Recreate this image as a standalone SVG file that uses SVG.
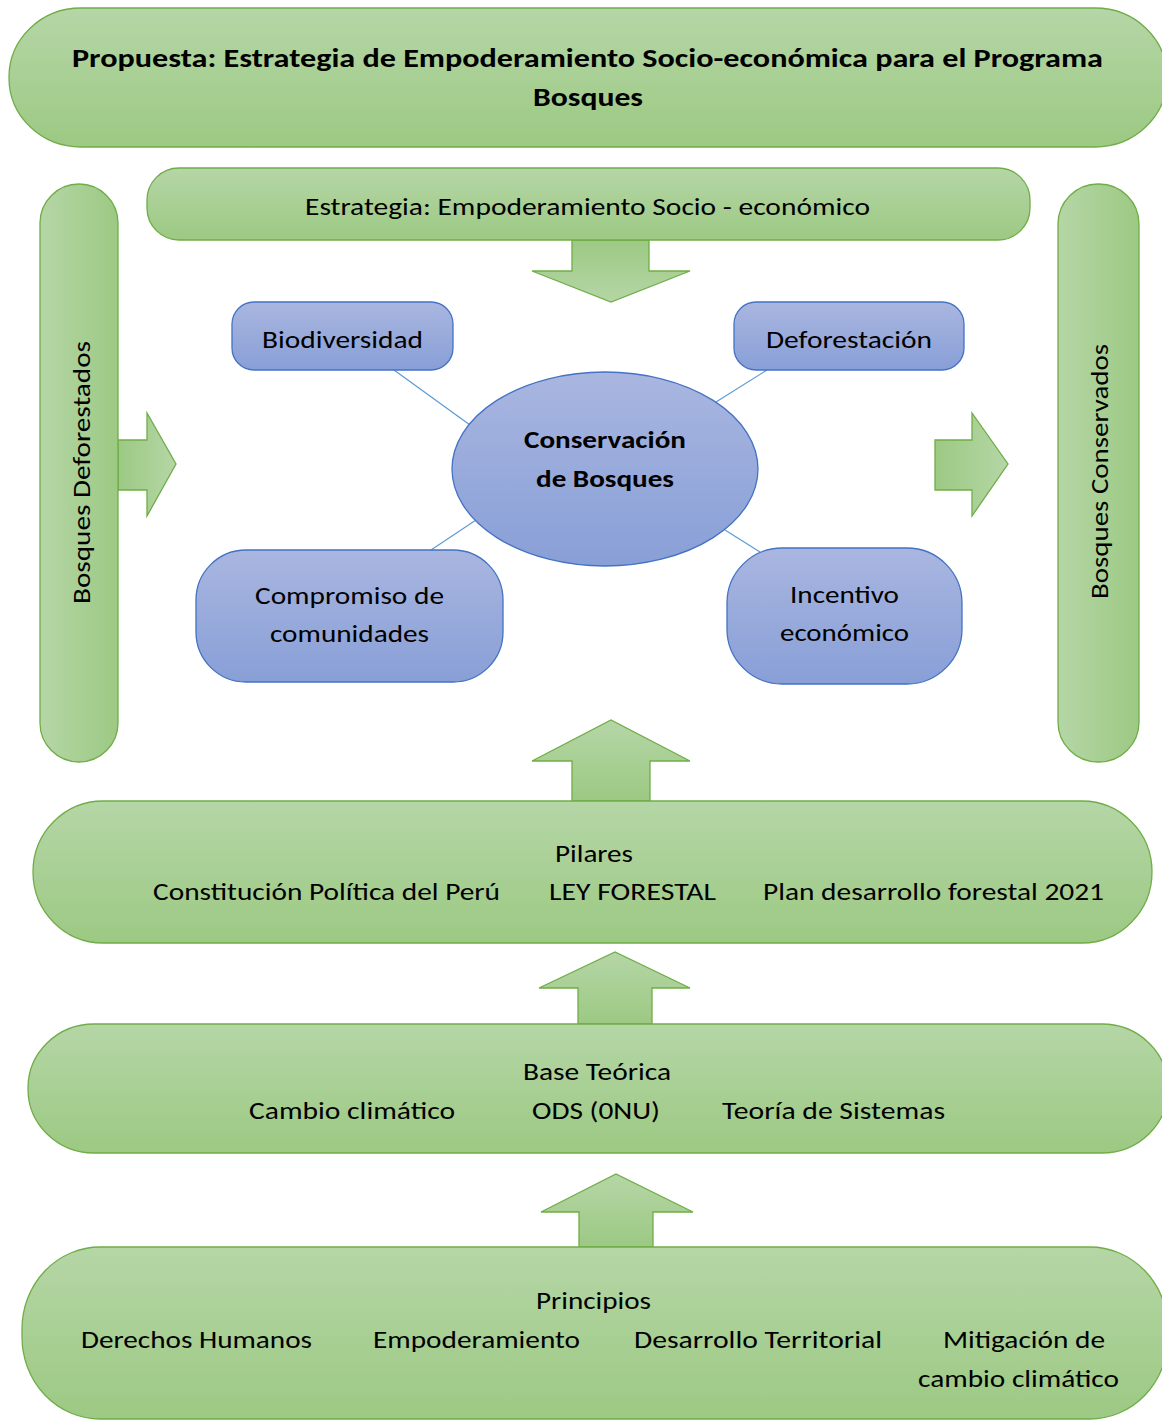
<svg xmlns="http://www.w3.org/2000/svg" width="1162" height="1420" viewBox="0 0 1162 1420">
<defs>
<linearGradient id="gV" x1="0" y1="0" x2="0" y2="1"><stop offset="0" stop-color="#b5d6a6"/><stop offset="1" stop-color="#9cc983"/></linearGradient>
<linearGradient id="gVr" x1="0" y1="0" x2="0" y2="1"><stop offset="0" stop-color="#9cc983"/><stop offset="1" stop-color="#b5d6a6"/></linearGradient>
<linearGradient id="gH" x1="0" y1="0" x2="1" y2="0"><stop offset="0" stop-color="#b5d6a6"/><stop offset="1" stop-color="#9cc983"/></linearGradient>
<linearGradient id="gHr" x1="0" y1="0" x2="1" y2="0"><stop offset="0" stop-color="#9cc983"/><stop offset="1" stop-color="#b5d6a6"/></linearGradient>
<linearGradient id="bV" x1="0" y1="0" x2="0" y2="1"><stop offset="0" stop-color="#a9b6e0"/><stop offset="1" stop-color="#889fd7"/></linearGradient>
<style>
.g{fill:url(#gV);stroke:#70ad47;stroke-width:1.3}
.gh{fill:url(#gH);stroke:#70ad47;stroke-width:1.3}
.b{fill:url(#bV);stroke:#4472c4;stroke-width:1.3}
.au{fill:url(#gV);stroke:#70ad47;stroke-width:1.3}
.ad{fill:url(#gVr);stroke:#70ad47;stroke-width:1.3}
.ar{fill:url(#gHr);stroke:#70ad47;stroke-width:1.3}
.ln{stroke:#5b9bd5;stroke-width:1.2;fill:none}
text{font-family:Carlito,"Liberation Sans",Arial,sans-serif;font-size:25px;fill:#000}
.bd{font-weight:bold}
</style>
</defs>

<g id="connectors">
<line class="ln" x1="394" y1="370" x2="470" y2="425"/>
<line class="ln" x1="767" y1="370" x2="716" y2="402"/>
<line class="ln" x1="431" y1="550" x2="476" y2="520"/>
<line class="ln" x1="725" y1="530" x2="760" y2="552"/>
<polygon class="ad" points="572,240 649,240 649,271 690,271 611,302 532,271 572,271"/>
<polygon class="ar" points="118,440 147,440 147,413 176,464 147,516 147,490 118,490"/>
<polygon class="ar" points="935,440 972,440 972,413 1008,464 972,516 972,490 935,490"/>
<polygon class="au" points="572,801 572,761 532,761 611,720 690,761 650,761 650,801"/>
<polygon class="au" points="578,1024 578,988 539,988 615,952 690,988 652,988 652,1024"/>
<polygon class="au" points="579,1247 579,1212 541,1212 616,1174 693,1212 653,1212 653,1247"/>
</g>

<g id="title">
<rect class="g" x="9" y="8" width="1158" height="139" rx="72" ry="69"/>
<text class="bd" x="72" y="67" textLength="1031" lengthAdjust="spacingAndGlyphs" style="font-size:27px">Propuesta: Estrategia de Empoderamiento Socio-económica para el Programa</text>
<text class="bd" x="533" y="106" textLength="110" lengthAdjust="spacingAndGlyphs" style="font-size:27px">Bosques</text>
</g>

<g id="estrategia">
<rect class="g" x="147" y="168" width="883" height="72" rx="32" ry="32"/>
<text x="305" y="215" textLength="565" lengthAdjust="spacingAndGlyphs">Estrategia: Empoderamiento Socio - económico</text>
</g>

<g id="deforestados">
<rect class="gh" x="40" y="184" width="78" height="578" rx="39" ry="39"/>
<text transform="translate(90,473) rotate(-90)" x="-131" y="0" textLength="263" lengthAdjust="spacingAndGlyphs">Bosques Deforestados</text>
</g>

<g id="conservados">
<rect class="gh" x="1058" y="184" width="81" height="578" rx="40" ry="40"/>
<text transform="translate(1108,472) rotate(-90)" x="-127" y="0" textLength="255" lengthAdjust="spacingAndGlyphs">Bosques Conservados</text>
</g>

<g id="biodiversidad">
<rect class="b" x="232" y="302" width="221" height="68" rx="22" ry="22"/>
<text x="262" y="348" textLength="161" lengthAdjust="spacingAndGlyphs">Biodiversidad</text>
</g>

<g id="deforestacion">
<rect class="b" x="734" y="302" width="230" height="68" rx="22" ry="22"/>
<text x="766" y="348" textLength="166" lengthAdjust="spacingAndGlyphs">Deforestación</text>
</g>

<g id="conservacion">
<ellipse class="b" cx="605" cy="469" rx="153" ry="97"/>
<text class="bd" x="524" y="448" textLength="162" lengthAdjust="spacingAndGlyphs">Conservación</text>
<text class="bd" x="536" y="487" textLength="138" lengthAdjust="spacingAndGlyphs">de Bosques</text>
</g>

<g id="compromiso">
<rect class="b" x="196" y="550" width="307" height="132" rx="50" ry="50"/>
<text x="255" y="604" textLength="189" lengthAdjust="spacingAndGlyphs">Compromiso de</text>
<text x="270" y="642" textLength="159" lengthAdjust="spacingAndGlyphs">comunidades</text>
</g>

<g id="incentivo">
<rect class="b" x="727" y="548" width="235" height="136" rx="55" ry="55"/>
<text x="790" y="603" textLength="109" lengthAdjust="spacingAndGlyphs">Incentivo</text>
<text x="780" y="641" textLength="129" lengthAdjust="spacingAndGlyphs">económico</text>
</g>

<g id="pilares">
<rect class="g" x="33" y="801" width="1119" height="142" rx="70" ry="71"/>
<text x="555" y="862" textLength="78" lengthAdjust="spacingAndGlyphs">Pilares</text>
<text x="153" y="900" textLength="347" lengthAdjust="spacingAndGlyphs">Constitución Política del Perú</text>
<text x="549" y="900" textLength="167" lengthAdjust="spacingAndGlyphs">LEY FORESTAL</text>
<text x="763" y="900" textLength="341" lengthAdjust="spacingAndGlyphs">Plan desarrollo forestal 2021</text>
</g>

<g id="base-teorica">
<rect class="g" x="28" y="1024" width="1140" height="129" rx="66" ry="64"/>
<text x="523" y="1080" textLength="148" lengthAdjust="spacingAndGlyphs">Base Teórica</text>
<text x="249" y="1119" textLength="206" lengthAdjust="spacingAndGlyphs">Cambio climático</text>
<text x="532" y="1119" textLength="128" lengthAdjust="spacingAndGlyphs">ODS (0NU)</text>
<text x="722" y="1119" textLength="223" lengthAdjust="spacingAndGlyphs">Teoría de Sistemas</text>
</g>

<g id="principios">
<rect class="g" x="22" y="1247" width="1146" height="172" rx="78" ry="82"/>
<text x="536" y="1309" textLength="115" lengthAdjust="spacingAndGlyphs">Principios</text>
<text x="81" y="1348" textLength="231" lengthAdjust="spacingAndGlyphs">Derechos Humanos</text>
<text x="373" y="1348" textLength="207" lengthAdjust="spacingAndGlyphs">Empoderamiento</text>
<text x="634" y="1348" textLength="248" lengthAdjust="spacingAndGlyphs">Desarrollo Territorial</text>
<text x="943" y="1348" textLength="162" lengthAdjust="spacingAndGlyphs">Mitigación de</text>
<text x="918" y="1387" textLength="201" lengthAdjust="spacingAndGlyphs">cambio climático</text>
</g>
</svg>
